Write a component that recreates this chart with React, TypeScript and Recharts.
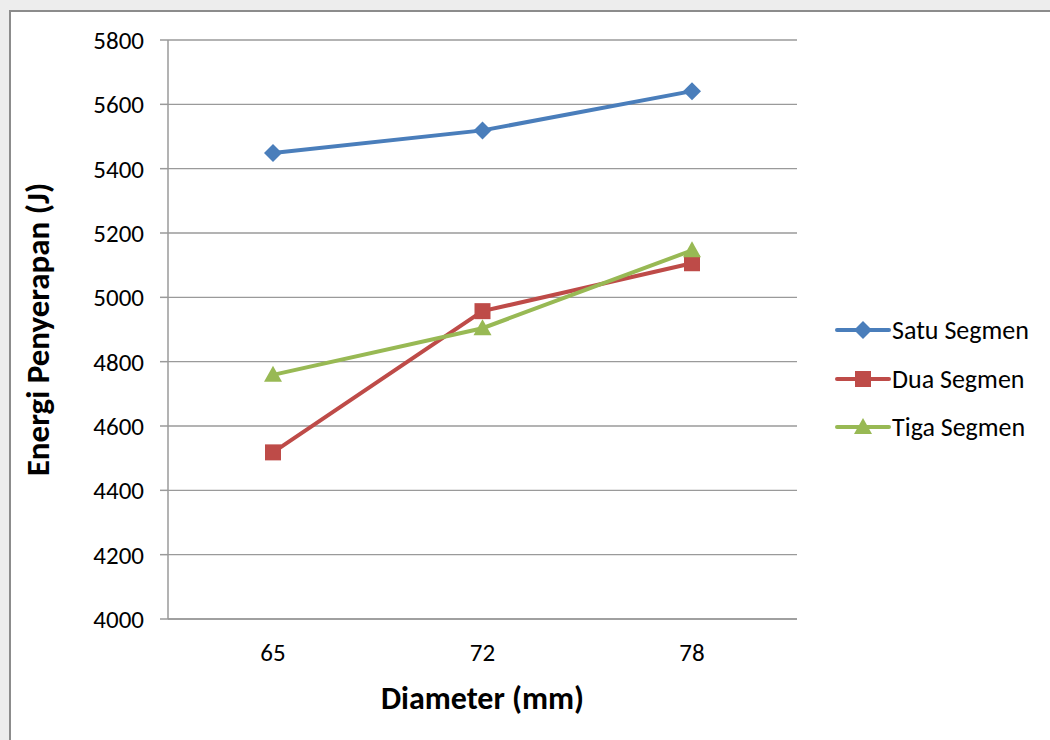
import { LineChart, Line, XAxis, YAxis, CartesianGrid } from "recharts";

const diameters = ["65", "72", "78"];
const satuSegmen = [5449, 5519, 5641];
const duaSegmen = [4518, 4957, 5106];
const tigaSegmen = [4759, 4904, 5146];
const yTicks = [4000, 4200, 4400, 4600, 4800, 5000, 5200, 5400, 5600, 5800];

const data = diameters.map((d, i) => ({
  diameter: d,
  satu: satuSegmen[i],
  dua: duaSegmen[i],
  tiga: tigaSegmen[i],
}));

const FONT = "Carlito, Calibri, 'Open Sans', sans-serif";

const series = [
  { key: "satu", name: "Satu Segmen", color: "#4a7ebb", shape: "diamond" },
  { key: "dua", name: "Dua Segmen", color: "#be4b48", shape: "square" },
  { key: "tiga", name: "Tiga Segmen", color: "#98b954", shape: "triangle" },
];

const Marker = ({ cx, cy, shape, color }: any) => {
  if (cx == null || cy == null) return null;
  if (shape === "diamond") {
    return <polygon points={`${cx},${cy - 9} ${cx + 9},${cy} ${cx},${cy + 9} ${cx - 9},${cy}`} fill={color} />;
  }
  if (shape === "square") {
    return <rect x={cx - 8} y={cy - 8} width={16} height={16} fill={color} />;
  }
  return <polygon points={`${cx},${cy - 9} ${cx + 9},${cy + 7} ${cx - 9},${cy + 7}`} fill={color} />;
};

const LegendBox = () => (
  <div style={{ fontFamily: FONT, fontSize: 26, color: "#000", lineHeight: "30px" }}>
    {series.map((s) => (
      <div key={s.key} style={{ display: "flex", alignItems: "center", height: 48.5 }}>
        <svg width={58} height={22}>
          <line x1={3} y1={11} x2={55} y2={11} stroke={s.color} strokeWidth={4} strokeLinecap="round" />
          <Marker cx={29} cy={11} shape={s.shape} color={s.color} />
        </svg>
        <span style={{ marginLeft: 0 }}>{s.name}</span>
      </div>
    ))}
  </div>
);

const App = () => {
  return (
    <div
      style={{
        position: "absolute",
        left: 0,
        top: 0,
        width: 1050,
        height: 740,
        background: "#ededed",
        overflow: "hidden",
      }}
    >
      <div
        style={{
          position: "absolute",
          left: 9,
          top: 10,
          width: 1060,
          height: 760,
          background: "#fff",
          border: "2px solid #8c8c8c",
        }}
      />
      <div style={{ position: "absolute", left: 0, top: 0 }}>
        <LineChart
          width={1050}
          height={740}
          data={data}
          margin={{ top: 40, right: 253, bottom: 21, left: 108 }}
        >
          <CartesianGrid vertical={false} stroke="#9a9a9a" strokeWidth={1.3} />
          <XAxis
            dataKey="diameter"
            height={100}
            padding={{ left: 105, right: 105 }}
            tickLine={false}
            tickSize={0}
            tickMargin={24}
            axisLine={{ stroke: "#9a9a9a", strokeWidth: 1.5 }}
            tick={{ fill: "#000", fontSize: 25, fontFamily: FONT }}
            label={{
              value: "Diameter (mm)",
              position: "insideBottom",
              offset: 10,
              style: { fill: "#000", fontSize: 32, fontWeight: "bold", fontFamily: FONT },
            }}
          />
          <YAxis
            width={60}
            domain={[4000, 5800]}
            ticks={yTicks}
            interval={0}
            tickSize={8}
            tickMargin={16}
            tickLine={{ stroke: "#9a9a9a", strokeWidth: 1.5 }}
            axisLine={{ stroke: "#9a9a9a", strokeWidth: 1.5 }}
            tick={{ fill: "#000", fontSize: 25, fontFamily: FONT }}
            label={{
              value: "Energi Penyerapan (J)",
              angle: -90,
              position: "center",
              dx: -101,
              style: { fill: "#000", fontSize: 33, fontWeight: "bold", fontFamily: FONT, textAnchor: "middle" },
            }}
          />
          {series.map((s) => (
            <Line
              key={s.key}
              dataKey={s.key}
              name={s.name}
              stroke={s.color}
              strokeWidth={4}
              isAnimationActive={false}
              dot={(p: any) => <Marker key={`${s.key}-${p.index}`} cx={p.cx} cy={p.cy} shape={s.shape} color={s.color} />}
              activeDot={false}
            />
          ))}
        </LineChart>
      </div>
      <div style={{ position: "absolute", left: 834, top: 306, width: 216 }}>
        <LegendBox />
      </div>
    </div>
  );
};

export default App;
